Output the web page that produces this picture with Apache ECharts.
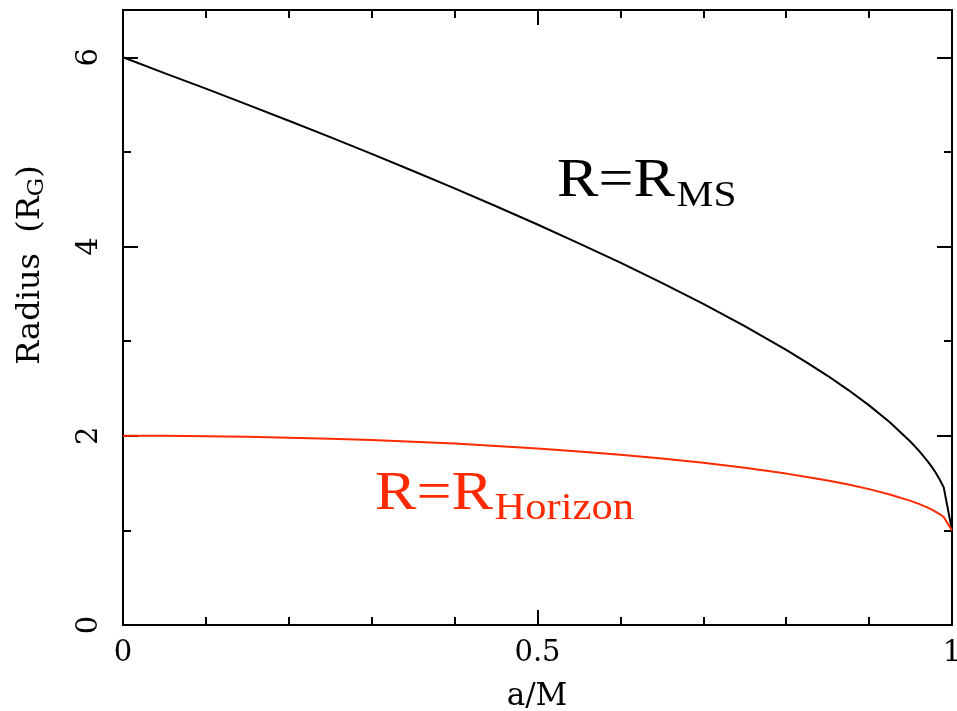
<!DOCTYPE html>
<html>
<head>
<meta charset="utf-8">
<script src="https://cdn.jsdelivr.net/npm/echarts@6/dist/echarts.min.js"></script>
<style>
  html, body { margin: 0; padding: 0; background: #fff; }
  #chart { width: 957px; height: 711px; }
</style>
</head>
<body>
<div id="chart"></div>
<script>
// Spin parameter a/M
var spin = [0, 0.05, 0.1, 0.15, 0.2, 0.25, 0.3, 0.35, 0.4, 0.45, 0.5, 0.55, 0.6, 0.65,
            0.7, 0.75, 0.8, 0.825, 0.85, 0.875, 0.9, 0.925, 0.95, 0.96, 0.97, 0.975,
            0.98, 0.985, 0.99, 1.0];
// Marginally stable orbit radius (R_G)
var rMS = [6.000, 5.833, 5.669, 5.500, 5.329, 5.156, 4.979, 4.798, 4.614, 4.426, 4.233,
           4.034, 3.829, 3.616, 3.393, 3.158, 2.907, 2.773, 2.634, 2.483, 2.321, 2.143,
           1.937, 1.843, 1.738, 1.679, 1.614, 1.541, 1.455, 1.000];
// Event horizon radius (R_G)
var rHorizon = [2.000, 1.999, 1.995, 1.989, 1.980, 1.968, 1.954, 1.937, 1.917, 1.893, 1.866,
                1.835, 1.800, 1.760, 1.714, 1.661, 1.600, 1.565, 1.527, 1.484, 1.436, 1.380,
                1.312, 1.280, 1.243, 1.222, 1.199, 1.173, 1.141, 1.000];

var xTickLabels = { 0: '0', 0.5: '0.5', 1: '1' };
var yTickLabels = { 0: '0', 2: '2', 4: '4', 6: '6' };

var INK = '#000';
var RED = '#ff2a00';
var tickFont = '"DejaVu Serif", serif';
var textFont = '"Liberation Serif", "Times New Roman", serif';

function pairs(xs, ys) {
  return xs.map(function (x, i) { return [x, ys[i]]; });
}

function xAxisDef(pos, showLabels) {
  return {
    type: 'value', position: pos, min: 0, max: 1, interval: 0.5,
    axisLine: { show: true, onZero: false, lineStyle: { color: INK, width: 2 } },
    axisTick: { show: true, inside: true, length: 15, lineStyle: { color: INK, width: 2 } },
    minorTick: { show: true, splitNumber: 5, length: 8, lineStyle: { color: INK, width: 2 } },
    splitLine: { show: false },
    axisLabel: {
      show: showLabels, margin: 14, color: INK, fontFamily: tickFont, fontSize: 29,
      formatter: function (v) { return xTickLabels[v] !== undefined ? xTickLabels[v] : ''; }
    }
  };
}

function yAxisDef(pos, step, len, showLabels) {
  return {
    type: 'value', position: pos, min: 0, max: 6.5, interval: step,
    axisLine: { show: true, onZero: false, lineStyle: { color: INK, width: 2 } },
    axisTick: { show: true, inside: true, length: len, lineStyle: { color: INK, width: 2 } },
    splitLine: { show: false },
    axisLabel: {
      show: showLabels, rotate: 90, margin: 19, color: INK, fontFamily: tickFont, fontSize: 29,
      showMaxLabel: false,
      formatter: function (v) { return yTickLabels[v] !== undefined ? yTickLabels[v] : ''; }
    }
  };
}

var chart = echarts.init(document.getElementById('chart'), null, { renderer: 'canvas' });

chart.setOption({
  backgroundColor: '#fff',
  animation: false,
  grid: { left: 123, right: 5, top: 10, bottom: 86, containLabel: false, outerBoundsMode: 'none' },
  xAxis: [xAxisDef('bottom', true), xAxisDef('top', false)],
  yAxis: [
    yAxisDef('left', 2, 15, true),
    yAxisDef('left', 1, 8, false),
    yAxisDef('right', 2, 15, false),
    yAxisDef('right', 1, 8, false)
  ],
  series: [
    {
      type: 'line', xAxisIndex: 0, yAxisIndex: 0, showSymbol: false,
      lineStyle: { color: INK, width: 2 }, data: pairs(spin, rMS)
    },
    {
      type: 'line', xAxisIndex: 0, yAxisIndex: 0, showSymbol: false,
      lineStyle: { color: RED, width: 2 }, data: pairs(spin, rHorizon)
    }
  ],
  graphic: [
    // x-axis title
    {
      type: 'text', x: 537, y: 697,
      style: { text: 'a/M', fill: INK, font: '31px ' + tickFont, align: 'center', verticalAlign: 'middle' }
    },
    // y-axis title, rotated
    {
      type: 'text', x: 31, y: 265, rotation: Math.PI / 2,
      style: {
        text: 'Radius  (R{g|G})', fill: INK, font: '32px ' + tickFont,
        align: 'center', verticalAlign: 'middle',
        rich: { g: { fontSize: 23, fontFamily: tickFont, fill: INK, padding: [12, 0, 0, 0] } }
      }
    },
    // curve annotations
    {
      type: 'group', x: 557, y: 209, scaleX: 1.15,
      children: [
        { type: 'text', x: 0, y: 0,
          style: { text: 'R=R', fill: INK, font: '54px ' + textFont, align: 'left', verticalAlign: 'bottom' } },
        { type: 'text', x: 104, y: 6,
          style: { text: 'MS', fill: INK, font: '36px ' + textFont, align: 'left', verticalAlign: 'bottom' } }
      ]
    },
    {
      type: 'group', x: 375, y: 522, scaleX: 1.15,
      children: [
        { type: 'text', x: 0, y: 0,
          style: { text: 'R=R', fill: RED, font: '54px ' + textFont, align: 'left', verticalAlign: 'bottom' } },
        { type: 'text', x: 104, y: 6,
          style: { text: 'Horizon', fill: RED, font: '37px ' + textFont, align: 'left', verticalAlign: 'bottom' } }
      ]
    }
  ]
});
</script>
</body>
</html>
